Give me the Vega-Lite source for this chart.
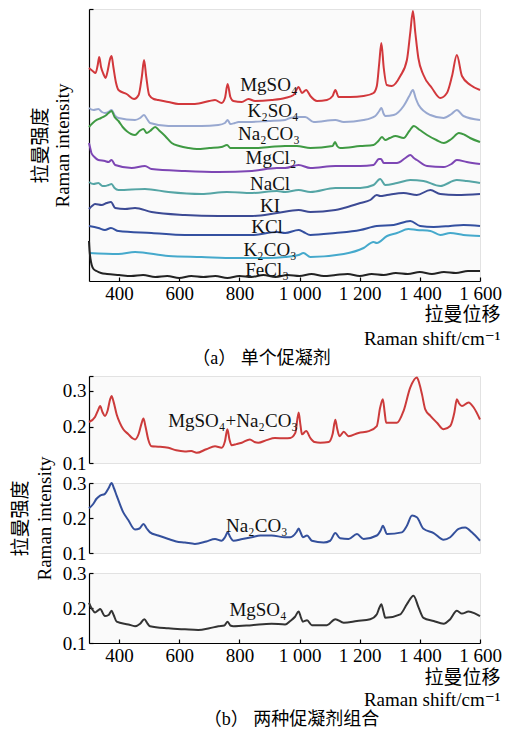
{
"$schema": "https://vega.github.io/schema/vega-lite/v6.json",
"padding": {"left": 10, "top": 6, "right": 0, "bottom": 2},
"background": "white",
"config": {
  "view": {"fill": "#fafafa", "stroke": "#e2e2e2"},
  "axis": {"domainColor": "#000", "tickColor": "#000", "labelColor": "#000", "titleColor": "#000",
    "labelFont": "Liberation Serif, DejaVu Serif", "labelFontSize": 19, "labelOverlap": false, "labelBound": false, "labelFlush": false,
    "titleFont": "Liberation Serif, DejaVu Serif, Noto Sans CJK SC", "titleFontSize": 19, "titleFontWeight": "normal",
    "grid": false, "tickSize": -4, "domainWidth": 1.2, "tickWidth": 1.2, "labelPadding": 7},
  "title": {"font": "Liberation Serif, Noto Sans CJK SC", "fontSize": 18, "fontWeight": "normal", "color": "#000"}
},
"datasets": {
"a": [
{"s":"MgSO4","x":300,"y":213},{"s":"MgSO4","x":312,"y":210},{"s":"MgSO4","x":322,"y":208},{"s":"MgSO4","x":329,"y":216},{"s":"MgSO4","x":334,"y":224},{"s":"MgSO4","x":340,"y":214},{"s":"MgSO4","x":348,"y":207},{"s":"MgSO4","x":355,"y":203},{"s":"MgSO4","x":362,"y":210},{"s":"MgSO4","x":370,"y":222},{"s":"MgSO4","x":375,"y":225},{"s":"MgSO4","x":381,"y":214},{"s":"MgSO4","x":390,"y":198},{"s":"MgSO4","x":398,"y":191},{"s":"MgSO4","x":425,"y":187},{"s":"MgSO4","x":450,"y":182},{"s":"MgSO4","x":465,"y":186},{"s":"MgSO4","x":476,"y":205},{"s":"MgSO4","x":483,"y":221},{"s":"MgSO4","x":490,"y":205},{"s":"MgSO4","x":500,"y":186},{"s":"MgSO4","x":515,"y":182},{"s":"MgSO4","x":530,"y":181},{"s":"MgSO4","x":564,"y":179},{"s":"MgSO4","x":597,"y":177},{"s":"MgSO4","x":652,"y":177},{"s":"MgSO4","x":700,"y":180},{"s":"MgSO4","x":719,"y":181},{"s":"MgSO4","x":741,"y":178},{"s":"MgSO4","x":752,"y":183},{"s":"MgSO4","x":761,"y":197},{"s":"MgSO4","x":770,"y":184},{"s":"MgSO4","x":780,"y":180},{"s":"MgSO4","x":808,"y":179},{"s":"MgSO4","x":830,"y":182},{"s":"MgSO4","x":852,"y":180},{"s":"MgSO4","x":907,"y":181},{"s":"MgSO4","x":952,"y":183},{"s":"MgSO4","x":980,"y":186},{"s":"MgSO4","x":997,"y":194},{"s":"MgSO4","x":1008,"y":188},{"s":"MgSO4","x":1022,"y":191},{"s":"MgSO4","x":1036,"y":185},{"s":"MgSO4","x":1058,"y":180},{"s":"MgSO4","x":1091,"y":181},{"s":"MgSO4","x":1110,"y":185},{"s":"MgSO4","x":1119,"y":191},{"s":"MgSO4","x":1130,"y":184},{"s":"MgSO4","x":1169,"y":184},{"s":"MgSO4","x":1213,"y":185},{"s":"MgSO4","x":1246,"y":188},{"s":"MgSO4","x":1257,"y":195},{"s":"MgSO4","x":1265,"y":218},{"s":"MgSO4","x":1272,"y":238},{"s":"MgSO4","x":1280,"y":213},{"s":"MgSO4","x":1290,"y":196},{"s":"MgSO4","x":1307,"y":195},{"s":"MgSO4","x":1335,"y":205},{"s":"MgSO4","x":1357,"y":221},{"s":"MgSO4","x":1368,"y":248},{"s":"MgSO4","x":1377,"y":270},{"s":"MgSO4","x":1385,"y":248},{"s":"MgSO4","x":1395,"y":223},{"s":"MgSO4","x":1412,"y":206},{"s":"MgSO4","x":1440,"y":193},{"s":"MgSO4","x":1468,"y":183},{"s":"MgSO4","x":1490,"y":188},{"s":"MgSO4","x":1507,"y":205},{"s":"MgSO4","x":1523,"y":226},{"s":"MgSO4","x":1540,"y":205},{"s":"MgSO4","x":1568,"y":196},{"s":"MgSO4","x":1600,"y":191},
{"s":"K2SO4","x":300,"y":173},{"s":"K2SO4","x":315,"y":171},{"s":"K2SO4","x":331,"y":172},{"s":"K2SO4","x":343,"y":169},{"s":"K2SO4","x":353,"y":168},{"s":"K2SO4","x":365,"y":169},{"s":"K2SO4","x":375,"y":171},{"s":"K2SO4","x":385,"y":166},{"s":"K2SO4","x":398,"y":163},{"s":"K2SO4","x":453,"y":161},{"s":"K2SO4","x":470,"y":163},{"s":"K2SO4","x":483,"y":166},{"s":"K2SO4","x":493,"y":162},{"s":"K2SO4","x":503,"y":158},{"s":"K2SO4","x":564,"y":155},{"s":"K2SO4","x":674,"y":155},{"s":"K2SO4","x":730,"y":156},{"s":"K2SO4","x":752,"y":158},{"s":"K2SO4","x":761,"y":161},{"s":"K2SO4","x":770,"y":157},{"s":"K2SO4","x":785,"y":158},{"s":"K2SO4","x":797,"y":159},{"s":"K2SO4","x":830,"y":159},{"s":"K2SO4","x":896,"y":160},{"s":"K2SO4","x":952,"y":161},{"s":"K2SO4","x":969,"y":163},{"s":"K2SO4","x":1000,"y":164},{"s":"K2SO4","x":1019,"y":164},{"s":"K2SO4","x":1047,"y":159},{"s":"K2SO4","x":1119,"y":161},{"s":"K2SO4","x":1147,"y":159},{"s":"K2SO4","x":1213,"y":161},{"s":"K2SO4","x":1252,"y":165},{"s":"K2SO4","x":1265,"y":170},{"s":"K2SO4","x":1272,"y":173},{"s":"K2SO4","x":1280,"y":167},{"s":"K2SO4","x":1285,"y":165},{"s":"K2SO4","x":1313,"y":166},{"s":"K2SO4","x":1346,"y":175},{"s":"K2SO4","x":1365,"y":185},{"s":"K2SO4","x":1377,"y":191},{"s":"K2SO4","x":1386,"y":183},{"s":"K2SO4","x":1396,"y":176},{"s":"K2SO4","x":1435,"y":166},{"s":"K2SO4","x":1479,"y":163},{"s":"K2SO4","x":1505,"y":167},{"s":"K2SO4","x":1523,"y":171},{"s":"K2SO4","x":1545,"y":165},{"s":"K2SO4","x":1600,"y":161},
{"s":"Na2CO3","x":300,"y":154},{"s":"Na2CO3","x":320,"y":160},{"s":"Na2CO3","x":340,"y":163},{"s":"Na2CO3","x":353,"y":165},{"s":"Na2CO3","x":365,"y":168},{"s":"Na2CO3","x":375,"y":170},{"s":"Na2CO3","x":385,"y":164},{"s":"Na2CO3","x":398,"y":160},{"s":"Na2CO3","x":412,"y":154},{"s":"Na2CO3","x":425,"y":150},{"s":"Na2CO3","x":453,"y":146},{"s":"Na2CO3","x":468,"y":150},{"s":"Na2CO3","x":481,"y":152},{"s":"Na2CO3","x":492,"y":148},{"s":"Na2CO3","x":503,"y":150},{"s":"Na2CO3","x":520,"y":154},{"s":"Na2CO3","x":535,"y":150},{"s":"Na2CO3","x":553,"y":145},{"s":"Na2CO3","x":575,"y":138},{"s":"Na2CO3","x":600,"y":135},{"s":"Na2CO3","x":630,"y":133},{"s":"Na2CO3","x":659,"y":132},{"s":"Na2CO3","x":700,"y":133},{"s":"Na2CO3","x":740,"y":134},{"s":"Na2CO3","x":759,"y":136},{"s":"Na2CO3","x":770,"y":133},{"s":"Na2CO3","x":842,"y":133},{"s":"Na2CO3","x":900,"y":134},{"s":"Na2CO3","x":952,"y":135},{"s":"Na2CO3","x":991,"y":135},{"s":"Na2CO3","x":1036,"y":133},{"s":"Na2CO3","x":1110,"y":135},{"s":"Na2CO3","x":1118,"y":139},{"s":"Na2CO3","x":1125,"y":135},{"s":"Na2CO3","x":1135,"y":133},{"s":"Na2CO3","x":1202,"y":135},{"s":"Na2CO3","x":1246,"y":136},{"s":"Na2CO3","x":1262,"y":140},{"s":"Na2CO3","x":1274,"y":144},{"s":"Na2CO3","x":1285,"y":141},{"s":"Na2CO3","x":1300,"y":143},{"s":"Na2CO3","x":1319,"y":145},{"s":"Na2CO3","x":1346,"y":143},{"s":"Na2CO3","x":1365,"y":150},{"s":"Na2CO3","x":1380,"y":155},{"s":"Na2CO3","x":1400,"y":151},{"s":"Na2CO3","x":1424,"y":146},{"s":"Na2CO3","x":1455,"y":141},{"s":"Na2CO3","x":1480,"y":138},{"s":"Na2CO3","x":1505,"y":142},{"s":"Na2CO3","x":1530,"y":148},{"s":"Na2CO3","x":1550,"y":146},{"s":"Na2CO3","x":1567,"y":143},{"s":"Na2CO3","x":1600,"y":139},
{"s":"MgCl2","x":300,"y":138},{"s":"MgCl2","x":304,"y":133},{"s":"MgCl2","x":308,"y":128},{"s":"MgCl2","x":318,"y":124},{"s":"MgCl2","x":331,"y":121},{"s":"MgCl2","x":353,"y":120},{"s":"MgCl2","x":365,"y":119},{"s":"MgCl2","x":375,"y":121},{"s":"MgCl2","x":387,"y":116},{"s":"MgCl2","x":442,"y":113},{"s":"MgCl2","x":486,"y":115},{"s":"MgCl2","x":508,"y":112},{"s":"MgCl2","x":619,"y":110},{"s":"MgCl2","x":730,"y":109},{"s":"MgCl2","x":842,"y":110},{"s":"MgCl2","x":925,"y":113},{"s":"MgCl2","x":952,"y":113},{"s":"MgCl2","x":997,"y":116},{"s":"MgCl2","x":1036,"y":113},{"s":"MgCl2","x":1119,"y":115},{"s":"MgCl2","x":1202,"y":115},{"s":"MgCl2","x":1246,"y":116},{"s":"MgCl2","x":1264,"y":122},{"s":"MgCl2","x":1271,"y":122},{"s":"MgCl2","x":1280,"y":118},{"s":"MgCl2","x":1291,"y":118},{"s":"MgCl2","x":1324,"y":118},{"s":"MgCl2","x":1352,"y":123},{"s":"MgCl2","x":1368,"y":126},{"s":"MgCl2","x":1380,"y":123},{"s":"MgCl2","x":1390,"y":121},{"s":"MgCl2","x":1424,"y":115},{"s":"MgCl2","x":1479,"y":114},{"s":"MgCl2","x":1505,"y":117},{"s":"MgCl2","x":1523,"y":121},{"s":"MgCl2","x":1556,"y":119},{"s":"MgCl2","x":1600,"y":117},
{"s":"NaCl","x":300,"y":99},{"s":"NaCl","x":315,"y":97},{"s":"NaCl","x":331,"y":98},{"s":"NaCl","x":345,"y":95},{"s":"NaCl","x":353,"y":95},{"s":"NaCl","x":365,"y":96},{"s":"NaCl","x":375,"y":97},{"s":"NaCl","x":385,"y":93},{"s":"NaCl","x":398,"y":91},{"s":"NaCl","x":486,"y":92},{"s":"NaCl","x":564,"y":89},{"s":"NaCl","x":674,"y":87},{"s":"NaCl","x":758,"y":89},{"s":"NaCl","x":842,"y":88},{"s":"NaCl","x":925,"y":90},{"s":"NaCl","x":952,"y":89},{"s":"NaCl","x":997,"y":91},{"s":"NaCl","x":1036,"y":89},{"s":"NaCl","x":1119,"y":93},{"s":"NaCl","x":1202,"y":93},{"s":"NaCl","x":1246,"y":96},{"s":"NaCl","x":1268,"y":102},{"s":"NaCl","x":1285,"y":96},{"s":"NaCl","x":1324,"y":98},{"s":"NaCl","x":1368,"y":101},{"s":"NaCl","x":1412,"y":100},{"s":"NaCl","x":1468,"y":95},{"s":"NaCl","x":1523,"y":101},{"s":"NaCl","x":1556,"y":100},{"s":"NaCl","x":1600,"y":98},
{"s":"KI","x":300,"y":72},{"s":"KI","x":310,"y":75},{"s":"KI","x":320,"y":77},{"s":"KI","x":342,"y":76},{"s":"KI","x":359,"y":78},{"s":"KI","x":373,"y":79},{"s":"KI","x":387,"y":73},{"s":"KI","x":420,"y":72},{"s":"KI","x":453,"y":73},{"s":"KI","x":508,"y":69},{"s":"KI","x":619,"y":66},{"s":"KI","x":730,"y":65},{"s":"KI","x":842,"y":65},{"s":"KI","x":925,"y":68},{"s":"KI","x":997,"y":71},{"s":"KI","x":1036,"y":69},{"s":"KI","x":1119,"y":71},{"s":"KI","x":1147,"y":73},{"s":"KI","x":1202,"y":78},{"s":"KI","x":1235,"y":81},{"s":"KI","x":1257,"y":86},{"s":"KI","x":1268,"y":85},{"s":"KI","x":1291,"y":86},{"s":"KI","x":1346,"y":88},{"s":"KI","x":1390,"y":86},{"s":"KI","x":1435,"y":91},{"s":"KI","x":1468,"y":87},{"s":"KI","x":1523,"y":86},{"s":"KI","x":1600,"y":87},
{"s":"KCl","x":300,"y":55},{"s":"KCl","x":331,"y":53},{"s":"KCl","x":353,"y":51},{"s":"KCl","x":373,"y":53},{"s":"KCl","x":398,"y":50},{"s":"KCl","x":508,"y":48},{"s":"KCl","x":619,"y":46},{"s":"KCl","x":730,"y":46},{"s":"KCl","x":842,"y":46},{"s":"KCl","x":925,"y":49},{"s":"KCl","x":952,"y":48},{"s":"KCl","x":997,"y":51},{"s":"KCl","x":1013,"y":49},{"s":"KCl","x":1036,"y":46},{"s":"KCl","x":1119,"y":48},{"s":"KCl","x":1202,"y":51},{"s":"KCl","x":1257,"y":55},{"s":"KCl","x":1313,"y":56},{"s":"KCl","x":1368,"y":60},{"s":"KCl","x":1401,"y":55},{"s":"KCl","x":1446,"y":54},{"s":"KCl","x":1501,"y":55},{"s":"KCl","x":1545,"y":56},{"s":"KCl","x":1600,"y":55},
{"s":"K2CO3","x":300,"y":28},{"s":"K2CO3","x":398,"y":27},{"s":"K2CO3","x":453,"y":29},{"s":"K2CO3","x":564,"y":25},{"s":"K2CO3","x":674,"y":24},{"s":"K2CO3","x":785,"y":23},{"s":"K2CO3","x":896,"y":23},{"s":"K2CO3","x":952,"y":24},{"s":"K2CO3","x":997,"y":26},{"s":"K2CO3","x":1013,"y":28},{"s":"K2CO3","x":1036,"y":24},{"s":"K2CO3","x":1147,"y":27},{"s":"K2CO3","x":1213,"y":33},{"s":"K2CO3","x":1246,"y":39},{"s":"K2CO3","x":1257,"y":38},{"s":"K2CO3","x":1291,"y":45},{"s":"K2CO3","x":1324,"y":48},{"s":"K2CO3","x":1362,"y":52},{"s":"K2CO3","x":1390,"y":51},{"s":"K2CO3","x":1435,"y":50},{"s":"K2CO3","x":1468,"y":46},{"s":"K2CO3","x":1501,"y":48},{"s":"K2CO3","x":1545,"y":46},{"s":"K2CO3","x":1600,"y":45},
{"s":"FeCl3","x":300,"y":40},{"s":"FeCl3","x":302,"y":30},{"s":"FeCl3","x":305,"y":22},{"s":"FeCl3","x":309,"y":16},{"s":"FeCl3","x":315,"y":12},{"s":"FeCl3","x":325,"y":10},{"s":"FeCl3","x":340,"y":8},{"s":"FeCl3","x":360,"y":7},{"s":"FeCl3","x":400,"y":6},{"s":"FeCl3","x":440,"y":5},{"s":"FeCl3","x":480,"y":6},{"s":"FeCl3","x":520,"y":4},{"s":"FeCl3","x":560,"y":5},{"s":"FeCl3","x":600,"y":3},{"s":"FeCl3","x":640,"y":5},{"s":"FeCl3","x":680,"y":4},{"s":"FeCl3","x":720,"y":5},{"s":"FeCl3","x":760,"y":3},{"s":"FeCl3","x":800,"y":5},{"s":"FeCl3","x":840,"y":4},{"s":"FeCl3","x":880,"y":6},{"s":"FeCl3","x":920,"y":4},{"s":"FeCl3","x":960,"y":6},{"s":"FeCl3","x":1000,"y":5},{"s":"FeCl3","x":1040,"y":7},{"s":"FeCl3","x":1080,"y":5},{"s":"FeCl3","x":1120,"y":6},{"s":"FeCl3","x":1160,"y":7},{"s":"FeCl3","x":1200,"y":5},{"s":"FeCl3","x":1240,"y":7},{"s":"FeCl3","x":1280,"y":6},{"s":"FeCl3","x":1320,"y":8},{"s":"FeCl3","x":1360,"y":7},{"s":"FeCl3","x":1400,"y":9},{"s":"FeCl3","x":1440,"y":7},{"s":"FeCl3","x":1480,"y":9},{"s":"FeCl3","x":1520,"y":8},{"s":"FeCl3","x":1560,"y":10},{"s":"FeCl3","x":1600,"y":10}
],
"alab": [
{"t":"MgSO₄","x":898,"y":196},{"t":"K₂SO₄","x":912,"y":170},{"t":"Na₂CO₃","x":898,"y":147},{"t":"MgCl₂","x":905,"y":123},{"t":"NaCl","x":902,"y":97},{"t":"KI","x":902,"y":75},{"t":"KCl","x":892,"y":54},{"t":"K₂CO₃","x":902,"y":31},{"t":"FeCl₃","x":892,"y":11}
],
"b": [
{"s":"mix","x":300,"y":0.213},{"s":"mix","x":320,"y":0.227},{"s":"mix","x":330,"y":0.245},{"s":"mix","x":337,"y":0.257},{"s":"mix","x":345,"y":0.240},{"s":"mix","x":353,"y":0.230},{"s":"mix","x":362,"y":0.245},{"s":"mix","x":370,"y":0.275},{"s":"mix","x":375,"y":0.285},{"s":"mix","x":382,"y":0.268},{"s":"mix","x":392,"y":0.234},{"s":"mix","x":403,"y":0.210},{"s":"mix","x":414,"y":0.193},{"s":"mix","x":430,"y":0.180},{"s":"mix","x":445,"y":0.168},{"s":"mix","x":453,"y":0.165},{"s":"mix","x":465,"y":0.180},{"s":"mix","x":475,"y":0.210},{"s":"mix","x":481,"y":0.223},{"s":"mix","x":488,"y":0.200},{"s":"mix","x":497,"y":0.165},{"s":"mix","x":508,"y":0.146},{"s":"mix","x":530,"y":0.145},{"s":"mix","x":564,"y":0.142},{"s":"mix","x":590,"y":0.135},{"s":"mix","x":619,"y":0.132},{"s":"mix","x":640,"y":0.133},{"s":"mix","x":658,"y":0.128},{"s":"mix","x":690,"y":0.138},{"s":"mix","x":719,"y":0.146},{"s":"mix","x":741,"y":0.142},{"s":"mix","x":752,"y":0.160},{"s":"mix","x":760,"y":0.193},{"s":"mix","x":767,"y":0.165},{"s":"mix","x":774,"y":0.149},{"s":"mix","x":790,"y":0.152},{"s":"mix","x":808,"y":0.156},{"s":"mix","x":835,"y":0.165},{"s":"mix","x":850,"y":0.158},{"s":"mix","x":863,"y":0.156},{"s":"mix","x":890,"y":0.163},{"s":"mix","x":918,"y":0.169},{"s":"mix","x":952,"y":0.168},{"s":"mix","x":969,"y":0.169},{"s":"mix","x":986,"y":0.183},{"s":"mix","x":997,"y":0.239},{"s":"mix","x":1003,"y":0.205},{"s":"mix","x":1008,"y":0.179},{"s":"mix","x":1022,"y":0.188},{"s":"mix","x":1036,"y":0.169},{"s":"mix","x":1050,"y":0.158},{"s":"mix","x":1069,"y":0.156},{"s":"mix","x":1097,"y":0.158},{"s":"mix","x":1110,"y":0.180},{"s":"mix","x":1119,"y":0.219},{"s":"mix","x":1125,"y":0.195},{"s":"mix","x":1133,"y":0.174},{"s":"mix","x":1147,"y":0.186},{"s":"mix","x":1163,"y":0.174},{"s":"mix","x":1196,"y":0.183},{"s":"mix","x":1230,"y":0.188},{"s":"mix","x":1257,"y":0.202},{"s":"mix","x":1268,"y":0.253},{"s":"mix","x":1277,"y":0.276},{"s":"mix","x":1283,"y":0.240},{"s":"mix","x":1288,"y":0.211},{"s":"mix","x":1324,"y":0.211},{"s":"mix","x":1346,"y":0.244},{"s":"mix","x":1368,"y":0.308},{"s":"mix","x":1390,"y":0.336},{"s":"mix","x":1398,"y":0.320},{"s":"mix","x":1407,"y":0.290},{"s":"mix","x":1418,"y":0.248},{"s":"mix","x":1435,"y":0.230},{"s":"mix","x":1457,"y":0.211},{"s":"mix","x":1479,"y":0.193},{"s":"mix","x":1501,"y":0.202},{"s":"mix","x":1515,"y":0.240},{"s":"mix","x":1523,"y":0.276},{"s":"mix","x":1530,"y":0.265},{"s":"mix","x":1540,"y":0.257},{"s":"mix","x":1562,"y":0.267},{"s":"mix","x":1579,"y":0.253},{"s":"mix","x":1600,"y":0.220},
{"s":"na","x":300,"y":0.228},{"s":"na","x":314,"y":0.240},{"s":"na","x":325,"y":0.255},{"s":"na","x":337,"y":0.264},{"s":"na","x":353,"y":0.269},{"s":"na","x":365,"y":0.285},{"s":"na","x":375,"y":0.300},{"s":"na","x":383,"y":0.285},{"s":"na","x":392,"y":0.264},{"s":"na","x":414,"y":0.216},{"s":"na","x":430,"y":0.195},{"s":"na","x":453,"y":0.167},{"s":"na","x":468,"y":0.170},{"s":"na","x":481,"y":0.183},{"s":"na","x":492,"y":0.170},{"s":"na","x":503,"y":0.159},{"s":"na","x":530,"y":0.150},{"s":"na","x":564,"y":0.140},{"s":"na","x":590,"y":0.133},{"s":"na","x":619,"y":0.130},{"s":"na","x":652,"y":0.126},{"s":"na","x":690,"y":0.133},{"s":"na","x":719,"y":0.140},{"s":"na","x":741,"y":0.135},{"s":"na","x":752,"y":0.145},{"s":"na","x":761,"y":0.159},{"s":"na","x":770,"y":0.145},{"s":"na","x":780,"y":0.135},{"s":"na","x":810,"y":0.140},{"s":"na","x":841,"y":0.145},{"s":"na","x":870,"y":0.150},{"s":"na","x":907,"y":0.150},{"s":"na","x":952,"y":0.145},{"s":"na","x":969,"y":0.145},{"s":"na","x":990,"y":0.160},{"s":"na","x":997,"y":0.170},{"s":"na","x":1004,"y":0.158},{"s":"na","x":1011,"y":0.145},{"s":"na","x":1025,"y":0.150},{"s":"na","x":1041,"y":0.135},{"s":"na","x":1080,"y":0.130},{"s":"na","x":1102,"y":0.135},{"s":"na","x":1119,"y":0.157},{"s":"na","x":1135,"y":0.142},{"s":"na","x":1163,"y":0.140},{"s":"na","x":1191,"y":0.154},{"s":"na","x":1213,"y":0.140},{"s":"na","x":1257,"y":0.150},{"s":"na","x":1270,"y":0.165},{"s":"na","x":1277,"y":0.178},{"s":"na","x":1291,"y":0.154},{"s":"na","x":1340,"y":0.159},{"s":"na","x":1357,"y":0.178},{"s":"na","x":1374,"y":0.207},{"s":"na","x":1390,"y":0.202},{"s":"na","x":1412,"y":0.169},{"s":"na","x":1446,"y":0.157},{"s":"na","x":1479,"y":0.138},{"s":"na","x":1501,"y":0.145},{"s":"na","x":1529,"y":0.169},{"s":"na","x":1551,"y":0.173},{"s":"na","x":1573,"y":0.159},{"s":"na","x":1600,"y":0.135},
{"s":"mg","x":300,"y":0.215},{"s":"mg","x":310,"y":0.197},{"s":"mg","x":320,"y":0.187},{"s":"mg","x":330,"y":0.193},{"s":"mg","x":337,"y":0.197},{"s":"mg","x":353,"y":0.177},{"s":"mg","x":365,"y":0.180},{"s":"mg","x":375,"y":0.192},{"s":"mg","x":382,"y":0.180},{"s":"mg","x":392,"y":0.161},{"s":"mg","x":431,"y":0.153},{"s":"mg","x":453,"y":0.148},{"s":"mg","x":470,"y":0.155},{"s":"mg","x":484,"y":0.168},{"s":"mg","x":495,"y":0.155},{"s":"mg","x":503,"y":0.148},{"s":"mg","x":564,"y":0.142},{"s":"mg","x":619,"y":0.139},{"s":"mg","x":663,"y":0.137},{"s":"mg","x":700,"y":0.142},{"s":"mg","x":730,"y":0.148},{"s":"mg","x":750,"y":0.150},{"s":"mg","x":761,"y":0.161},{"s":"mg","x":770,"y":0.150},{"s":"mg","x":780,"y":0.148},{"s":"mg","x":841,"y":0.151},{"s":"mg","x":907,"y":0.155},{"s":"mg","x":952,"y":0.153},{"s":"mg","x":969,"y":0.163},{"s":"mg","x":985,"y":0.175},{"s":"mg","x":997,"y":0.190},{"s":"mg","x":1005,"y":0.172},{"s":"mg","x":1011,"y":0.161},{"s":"mg","x":1025,"y":0.165},{"s":"mg","x":1041,"y":0.151},{"s":"mg","x":1091,"y":0.151},{"s":"mg","x":1119,"y":0.168},{"s":"mg","x":1147,"y":0.158},{"s":"mg","x":1191,"y":0.163},{"s":"mg","x":1235,"y":0.168},{"s":"mg","x":1257,"y":0.182},{"s":"mg","x":1265,"y":0.200},{"s":"mg","x":1272,"y":0.211},{"s":"mg","x":1279,"y":0.190},{"s":"mg","x":1285,"y":0.172},{"s":"mg","x":1335,"y":0.182},{"s":"mg","x":1357,"y":0.211},{"s":"mg","x":1379,"y":0.235},{"s":"mg","x":1396,"y":0.201},{"s":"mg","x":1412,"y":0.172},{"s":"mg","x":1446,"y":0.163},{"s":"mg","x":1479,"y":0.155},{"s":"mg","x":1501,"y":0.168},{"s":"mg","x":1523,"y":0.192},{"s":"mg","x":1540,"y":0.184},{"s":"mg","x":1562,"y":0.190},{"s":"mg","x":1584,"y":0.184},{"s":"mg","x":1600,"y":0.177}
],
"blab": [
{"s":"mix","t":"MgSO₄+Na₂CO₃","x":779,"y":0.217},{"s":"na","t":"Na₂CO₃","x":858,"y":0.177},{"s":"mg","t":"MgSO₄","x":862,"y":0.193}
]
},
"bounds": "flush",
"spacing": 95,
"vconcat": [
{
  "width": 391, "height": 272,
  "title": {"text": "（a） 单个促凝剂", "orient": "bottom", "frame": "group", "anchor": "middle", "dx": -23, "offset": 2},
  "layer": [
    {"data": {"name": "a"}, "mark": {"type": "line", "strokeWidth": 2, "interpolate": "monotone"},
     "encoding": {
       "x": {"field": "x", "type": "quantitative", "scale": {"domain": [300, 1600], "nice": false},
             "axis": {"values": [400, 600, 800, 1000, 1200, 1400, 1600], "tickCount": 20, "labelExpr": "replace(format(datum.value, ','), ',', ' ')", "labelPadding": 7, "labelOverlap": false, "labelFlush": false, "labelBound": false,
                      "title": ["拉曼位移", "Raman shift/cm⁻¹"], "titleAlign": "right", "titleAnchor": "end", "titleX": 411, "titleY": 24, "titleBaseline": "top", "titleLineHeight": 24}},
       "y": {"field": "y", "type": "quantitative", "scale": {"domain": [0, 272], "nice": false},
             "axis": {"values": [272], "labels": false, "title": ["拉曼强度", "Raman intensity"], "titlePadding": 16, "titleLineHeight": 22}},
       "color": {"field": "s", "type": "nominal", "legend": null,
                 "scale": {"domain": ["MgSO4","K2SO4","Na2CO3","MgCl2","NaCl","KI","KCl","K2CO3","FeCl3"],
                           "range": ["#d2383c","#98a8d0","#3f9a43","#7d46b4","#55a5a5","#3c4a94","#3450a0","#45a9cc","#222222"]}}
     }},
    {"data": {"name": "alab"}, "mark": {"type": "text", "font": "Liberation Serif, DejaVu Serif", "fontSize": 19, "color": "#111"},
     "encoding": {
       "x": {"field": "x", "type": "quantitative"},
       "y": {"field": "y", "type": "quantitative"},
       "text": {"field": "t"}
     }}
  ]
},
{
  "bounds": "flush",
  "spacing": 20,
  "vconcat": [
    {
      "width": 391, "height": 87,
      "layer": [
        {"data": {"name": "b"}, "transform": [{"filter": "datum.s === 'mix'"}], "mark": {"type": "line", "strokeWidth": 2, "color": "#cc3b3b", "interpolate": "monotone"},
         "encoding": {
           "x": {"field": "x", "type": "quantitative", "scale": {"domain": [300, 1600], "nice": false}, "axis": null},
           "y": {"field": "y", "type": "quantitative", "scale": {"domain": [0.1, 0.34], "nice": false, "zero": false},
                 "axis": {"values": [0.1, 0.2, 0.3, 0.34], "tickCount": 20, "labelExpr": "datum.value > 0.31 ? '' : format(datum.value, '.1f')", "labelOverlap": false, "labelFlush": false, "labelBound": false, "title": null}}
         }},
        {"data": {"name": "blab"}, "transform": [{"filter": "datum.s === 'mix'"}], "mark": {"type": "text", "font": "Liberation Serif, DejaVu Serif", "fontSize": 19, "color": "#111"},
         "encoding": {
           "x": {"field": "x", "type": "quantitative"},
           "y": {"field": "y", "type": "quantitative"},
           "text": {"field": "t"}
         }}
      ]
    },
    {
      "width": 391, "height": 70,
      "layer": [
        {"data": {"name": "b"}, "transform": [{"filter": "datum.s === 'na'"}], "mark": {"type": "line", "strokeWidth": 2, "color": "#34509c", "interpolate": "monotone"},
         "encoding": {
           "x": {"field": "x", "type": "quantitative", "scale": {"domain": [300, 1600], "nice": false}, "axis": null},
           "y": {"field": "y", "type": "quantitative", "scale": {"domain": [0.1, 0.3], "nice": false, "zero": false},
                 "axis": {"values": [0.1, 0.2, 0.3], "tickCount": 20, "labelExpr": "format(datum.value, '.1f')", "labelOverlap": false, "labelFlush": false, "labelBound": false, "title": ["拉曼强度", "Raman intensity"], "titlePadding": 8, "titleLineHeight": 24}}
         }},
        {"data": {"name": "blab"}, "transform": [{"filter": "datum.s === 'na'"}], "mark": {"type": "text", "font": "Liberation Serif, DejaVu Serif", "fontSize": 19, "color": "#111"},
         "encoding": {
           "x": {"field": "x", "type": "quantitative"},
           "y": {"field": "y", "type": "quantitative"},
           "text": {"field": "t"}
         }}
      ]
    },
    {
      "width": 391, "height": 70,
      "title": {"text": "（b） 两种促凝剂组合", "orient": "bottom", "frame": "group", "anchor": "middle", "dx": 7, "offset": 2},
      "layer": [
        {"data": {"name": "b"}, "transform": [{"filter": "datum.s === 'mg'"}], "mark": {"type": "line", "strokeWidth": 2, "color": "#333333", "interpolate": "monotone"},
         "encoding": {
           "x": {"field": "x", "type": "quantitative", "scale": {"domain": [300, 1600], "nice": false},
                 "axis": {"values": [400, 600, 800, 1000, 1200, 1400, 1600], "tickCount": 20, "labelExpr": "replace(format(datum.value, ','), ',', ' ')", "labelPadding": 7, "labelOverlap": false, "labelFlush": false, "labelBound": false,
                          "title": ["拉曼位移", "Raman shift/cm⁻¹"], "titleAlign": "right", "titleAnchor": "end", "titleX": 411, "titleY": 25, "titleBaseline": "top", "titleLineHeight": 22}},
           "y": {"field": "y", "type": "quantitative", "scale": {"domain": [0.1, 0.3], "nice": false, "zero": false},
                 "axis": {"values": [0.1, 0.2, 0.3], "tickCount": 20, "labelExpr": "format(datum.value, '.1f')", "labelOverlap": false, "labelFlush": false, "labelBound": false, "title": null}}
         }},
        {"data": {"name": "blab"}, "transform": [{"filter": "datum.s === 'mg'"}], "mark": {"type": "text", "font": "Liberation Serif, DejaVu Serif", "fontSize": 19, "color": "#111"},
         "encoding": {
           "x": {"field": "x", "type": "quantitative"},
           "y": {"field": "y", "type": "quantitative"},
           "text": {"field": "t"}
         }}
      ]
    }
  ]
}
]
}
